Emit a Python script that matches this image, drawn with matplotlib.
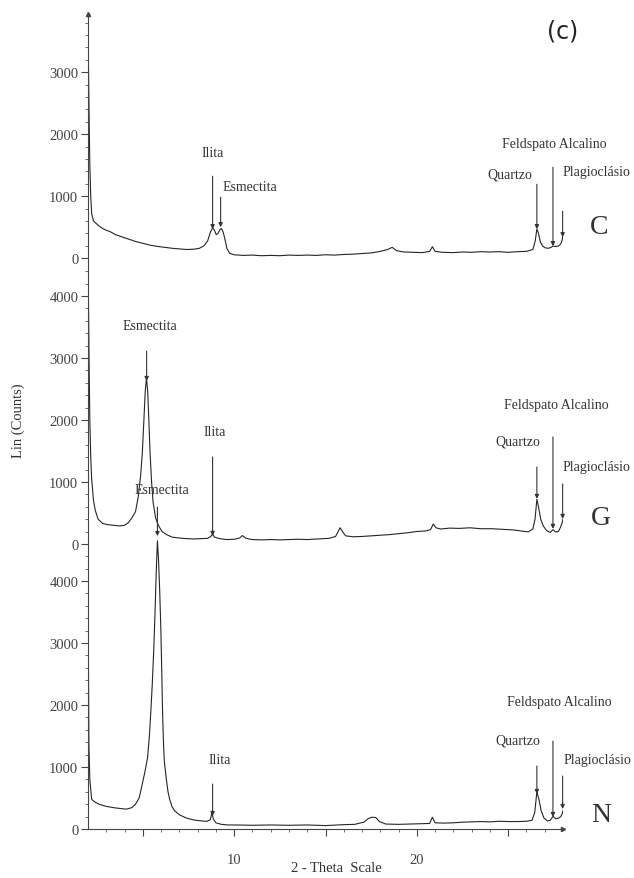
import numpy as np
import matplotlib
matplotlib.use("Agg")
import matplotlib.pyplot as plt
from matplotlib.ticker import FixedLocator, NullFormatter

plt.rcParams['font.family'] = ['Liberation Serif', 'DejaVu Serif']

# --- data (2-theta, counts) ---
theta_c = [2.0, 2.03, 2.06, 2.1, 2.15, 2.2, 2.3, 2.45, 2.6, 2.8, 3.0, 3.2, 3.5, 3.8,
           4.0, 4.3, 4.6, 5.0, 5.4, 5.8, 6.2, 6.6, 7.0, 7.4, 7.8, 8.1, 8.35, 8.55,
           8.7, 8.82, 8.92, 9.02, 9.12, 9.22, 9.3, 9.4, 9.5, 9.6, 9.75, 10.0, 10.5,
           11.0, 11.5, 12.0, 12.5, 13.0, 13.5, 14.0, 14.5, 15.0, 15.5, 16.0, 16.5,
           17.0, 17.5, 18.0, 18.4, 18.65, 18.9, 19.3, 19.8, 20.3, 20.7, 20.85, 21.0,
           21.4, 22.0, 22.5, 23.0, 23.5, 24.0, 24.5, 25.0, 25.5, 26.0, 26.35, 26.48,
           26.57, 26.66, 26.76, 26.9, 27.05, 27.2, 27.35, 27.45, 27.6, 27.75, 27.88,
           27.96, 28.0]
counts_c = [3900, 3000, 2300, 1500, 1000, 720, 600, 560, 520, 480, 450, 430, 380, 350,
            330, 300, 270, 240, 210, 190, 175, 160, 150, 140, 145, 160, 200, 280,
            420, 490, 450, 380, 400, 460, 480, 420, 300, 160, 80, 55, 45,
            50, 40, 45, 40, 50, 45, 50, 45, 55, 50, 60, 65,
            75, 85, 110, 140, 175, 120, 100, 95, 90, 110, 185, 110,
            95, 90, 100, 95, 105, 100, 105, 95, 105, 110, 140, 280,
            470, 400, 260, 190, 165, 160, 175, 195, 190, 195, 230,
            300, 380]

theta_g = [2.0, 2.03, 2.06, 2.1, 2.15, 2.2, 2.3, 2.4, 2.55, 2.8, 3.1, 3.4, 3.7, 4.0,
           4.2, 4.4, 4.6, 4.75, 4.88, 4.97, 5.06, 5.13, 5.2, 5.27, 5.33, 5.4, 5.48,
           5.56, 5.7, 5.85, 6.05, 6.3, 6.6, 7.0, 7.4, 7.8, 8.2, 8.55, 8.72, 8.82,
           8.92, 9.2, 9.6, 10.0, 10.3, 10.45, 10.65, 11.0, 11.5, 12.0, 12.5, 13.0,
           13.5, 14.0, 14.6, 15.2, 15.55, 15.8, 15.95, 16.1, 16.5, 17.0, 17.5, 18.0,
           18.5, 19.0, 19.5, 20.0, 20.5, 20.75, 20.9, 21.05, 21.3, 21.8, 22.3, 22.9,
           23.5, 24.1, 24.7, 25.3, 25.8, 26.1, 26.35, 26.47, 26.57, 26.67, 26.78,
           26.92, 27.1, 27.3, 27.45, 27.6, 27.75, 27.88, 27.97, 28.0]
counts_g = [4850, 3800, 2900, 2000, 1400, 1050, 700, 540, 400, 330, 310, 300, 290, 300,
            340, 420, 520, 760, 1100, 1450, 2000, 2450, 2680, 2450, 2000, 1450, 1000,
            680, 420, 300, 200, 150, 110, 95, 85, 80, 85, 90, 120, 160,
            110, 85, 70, 75, 95, 135, 90, 70, 65, 70, 65, 70,
            75, 70, 80, 90, 120, 260, 190, 130, 115, 120, 130, 140,
            150, 165, 180, 200, 210, 230, 320, 260, 240, 255, 250, 260,
            245, 245, 235, 225, 205, 195, 240, 400, 720, 580, 400,
            290, 215, 185, 230, 190, 200, 280, 360, 400]

theta_n = [2.0, 2.02, 2.05, 2.1, 2.2, 2.35, 2.6, 3.0, 3.5, 4.1, 4.4, 4.6, 4.8, 4.95,
           5.1, 5.26, 5.36, 5.44, 5.52, 5.6, 5.67, 5.74, 5.8, 5.86, 5.93, 5.99, 6.04,
           6.08, 6.13, 6.18, 6.29, 6.38, 6.47, 6.6, 6.74, 7.0, 7.38, 7.8, 8.1, 8.5,
           8.7, 8.78, 8.86, 9.0, 9.3, 9.7, 10.2, 11.0, 12.0, 13.0, 14.0, 15.0, 16.0,
           16.6, 17.1, 17.35, 17.55, 17.75, 17.95, 18.3, 19.0, 19.6, 20.2, 20.7, 20.85,
           21.0, 21.5, 22.0, 22.5, 23.0, 23.5, 24.0, 24.5, 25.0, 25.5, 26.0, 26.3,
           26.45, 26.57, 26.68, 26.8, 26.95, 27.15, 27.3, 27.45, 27.6, 27.75, 27.88,
           27.96, 28.0]
counts_n = [3550, 2950, 1340, 800, 480, 440, 400, 365, 340, 320, 345, 400, 500, 700,
            900, 1150, 1500, 1900, 2350, 2900, 3500, 4200, 4650, 4350, 3800, 3200, 2500,
            1900, 1400, 1080, 800, 600, 480, 360, 295, 230, 177, 145, 134, 123,
            150, 270, 160, 100, 75, 65, 65, 60, 65, 60, 65, 55, 70,
            75, 110, 170, 190, 185, 120, 80, 75, 80, 85, 90, 190,
            100, 95, 100, 110, 115, 120, 115, 125, 120, 120, 125, 140,
            260, 600, 480, 300, 180, 130, 140, 205, 165, 175, 200,
            250, 300]

samples = ['C', 'G', 'N']
offsets = {'C': 9210, 'G': 4600, 'N': 0}
tick_vals = {'C': [0, 1000, 2000, 3000], 'G': [0, 1000, 2000, 3000, 4000],
             'N': [0, 1000, 2000, 3000, 4000]}

# mineral labels: (sample, text, x, y)
labels = [
    ('C', 'Ilita', 8.82, 1710), ('C', 'Esmectita', 10.85, 1160),
    ('C', 'Feldspato Alcalino', 27.54, 1855), ('C', 'Quartzo', 25.08, 1355),
    ('C', 'Plagioclásio', 29.84, 1400),
    ('G', 'Esmectita', 5.38, 3516), ('G', 'Ilita', 8.93, 1806),
    ('G', 'Feldspato Alcalino', 27.65, 2242), ('G', 'Quartzo', 25.52, 1661),
    ('G', 'Plagioclásio', 29.84, 1242),
    ('N', 'Esmectita', 6.06, 5480), ('N', 'Ilita', 9.2, 1129),
    ('N', 'Feldspato Alcalino', 27.82, 2065), ('N', 'Quartzo', 25.52, 1435),
    ('N', 'Plagioclásio', 29.9, 1129),
]
# arrows: (sample, x, y_tail, y_tip)
arrows = [
    ('C', 8.82, 1323, 468), ('C', 9.26, 984, 500), ('C', 26.57, 1194, 468),
    ('C', 27.45, 1468, 194), ('C', 27.98, 758, 339),
    ('G', 5.21, 3113, 2629), ('G', 8.82, 1403, 129), ('G', 26.57, 1242, 726),
    ('G', 27.45, 1726, 242), ('G', 27.98, 968, 403),
    ('N', 5.8, 5194, 4726), ('N', 8.82, 726, 210), ('N', 26.57, 1016, 565),
    ('N', 27.45, 1419, 194), ('N', 27.98, 855, 323),
]
sample_pos = {'C': (30.0, 516), 'G': (30.1, 419), 'N': (30.1, 242)}

fig = plt.figure(figsize=(6.34, 8.79), dpi=100)
ax = fig.add_axes([88 / 634, 1 - 830 / 879, 475 / 634, 815 / 879])

line_col = '#262626'
data = {'C': (theta_c, counts_c), 'G': (theta_g, counts_g), 'N': (theta_n, counts_n)}
for s in samples:
    x, y = data[s]
    ax.plot(x, np.array(y) + offsets[s], color=line_col, lw=0.8)

for s, txt, x, y in labels:
    ax.text(x, y + offsets[s], txt, ha='center', va='center', fontsize=10,
            color='#333333', clip_on=False)

for s, x, y0, y1 in arrows:
    ax.annotate('', xy=(x, y1 + offsets[s]), xytext=(x, y0 + offsets[s]),
                arrowprops=dict(arrowstyle='-|>', color='#333333', lw=0.8,
                                mutation_scale=6, shrinkA=0, shrinkB=0),
                annotation_clip=False)

for s in samples:
    x, y = sample_pos[s]
    ax.text(x, y + offsets[s], s, ha='center', va='center', fontsize=20,
            color='#333333', clip_on=False)

ax.set_xlim(2, 28)
ax.set_ylim(0, 13150)

# y ticks: each pattern has its own count scale
yt, yl, ymin = [], [], []
for s in samples:
    for v in tick_vals[s]:
        yt.append(v + offsets[s])
        yl.append(str(v))
ymin = list(range(0, 4600, 200)) + list(range(4600, 9200, 200)) + list(range(9210, 13150, 200))
ax.set_yticks(yt)
ax.set_yticklabels(yl)
ax.yaxis.set_minor_locator(FixedLocator(ymin))

ax.set_xticks([5, 10, 15, 20, 25])
ax.set_xticklabels(['', '10', '', '20', ''])
ax.xaxis.set_minor_locator(FixedLocator(list(range(3, 28))))

ax.tick_params(axis='both', which='major', direction='out', length=5, width=0.8,
               colors='#444444', labelsize=10.5)
ax.tick_params(axis='both', which='minor', direction='out', length=2.5, width=0.6,
               colors='#555555')
ax.tick_params(axis='y', pad=2)
ax.tick_params(axis='x', pad=12)

for side in ['top', 'right']:
    ax.spines[side].set_visible(False)
for side in ['left', 'bottom']:
    ax.spines[side].set_color('#444444')
    ax.spines[side].set_linewidth(0.8)

# small arrow heads at the axis ends
ax.plot(1, 0, '>', color='#444444', ms=3, transform=ax.transAxes, clip_on=False)
ax.plot(0, 1, '^', color='#444444', ms=3, transform=ax.transAxes, clip_on=False)

fig.text(18 / 634, 1 - 421 / 879, 'Lin (Counts)', rotation=90, ha='center',
         va='center', fontsize=10.5, color='#333333')
fig.text(336 / 634, 1 - 869 / 879, '2 - Theta  Scale', ha='center', va='center',
         fontsize=10.5, color='#333333')
fig.text(563 / 634, 1 - 32 / 879, '(c)', ha='center', va='center', fontsize=17,
         family='DejaVu Sans', color='#222222')

fig.savefig('out.png', dpi=100)
